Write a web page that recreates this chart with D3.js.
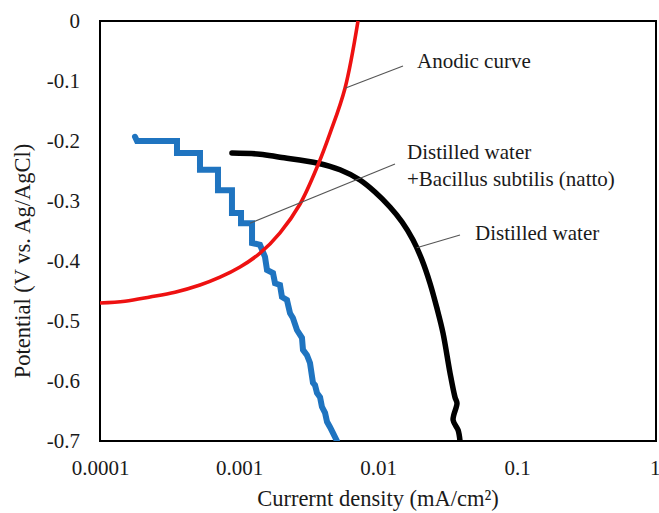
<!DOCTYPE html>
<html>
<head>
<meta charset="utf-8">
<script src="https://cdn.jsdelivr.net/npm/d3@7/dist/d3.min.js"></script>
<style>
  html, body { margin: 0; padding: 0; background: #fff; }
  svg { display: block; }
</style>
</head>
<body>
<svg id="chart" width="659" height="513"></svg>
<script>
// ---- data (current density in mA/cm², potential in V vs Ag/AgCl) ----
const xTicks = [0.0001, 0.001, 0.01, 0.1, 1];
const xTickLabels = ["0.0001", "0.001", "0.01", "0.1", "1"];
const yTicks = [0, -0.1, -0.2, -0.3, -0.4, -0.5, -0.6, -0.7];
const yTickLabels = ["0", "-0.1", "-0.2", "-0.3", "-0.4", "-0.5", "-0.6", "-0.7"];

const anodicCurrent = [1.0e-4, 1.514e-4, 2.29e-4, 3.465e-4, 5.24e-4, 7.30e-4, 1.017e-3, 1.416e-3, 1.972e-3, 2.75e-3, 3.70e-3, 4.52e-3, 5.79e-3, 7.18e-3];
const anodicPotential = [-0.470, -0.467, -0.460, -0.452, -0.440, -0.427, -0.410, -0.387, -0.353, -0.305, -0.240, -0.187, -0.112, 0.0];

const dwCurrent = [8.90e-4, 1.416e-3, 1.972e-3, 3.70e-3, 5.33e-3, 7.42e-3, 9.51e-3, 1.219e-2, 1.49e-2, 1.787e-2, 2.07e-2, 2.366e-2, 2.65e-2, 2.935e-2, 3.30e-2, 3.58e-2, 3.70e-2, 3.47e-2, 3.77e-2, 3.89e-2];
const dwPotential = [-0.220, -0.222, -0.227, -0.237, -0.248, -0.265, -0.285, -0.310, -0.335, -0.365, -0.398, -0.437, -0.478, -0.520, -0.587, -0.627, -0.637, -0.665, -0.682, -0.700];

const bsCurrent = [1.786e-4, 1.846e-4, 3.58e-4, 3.58e-4, 5.24e-4, 5.24e-4, 7.06e-4, 7.06e-4, 8.90e-4, 8.90e-4, 1.034e-3, 1.034e-3, 1.241e-3, 1.241e-3, 1.416e-3, 1.538e-3, 1.590e-3, 1.756e-3, 1.816e-3, 1.972e-3, 2.037e-3, 2.213e-3, 2.328e-3, 2.443e-3, 2.612e-3, 2.838e-3, 2.886e-3, 3.083e-3, 3.242e-3, 3.404e-3, 3.524e-3, 3.64e-3, 3.83e-3, 3.95e-3, 4.16e-3, 4.30e-3, 4.52e-3, 5.07e-3];
const bsPotential = [-0.193, -0.200, -0.200, -0.220, -0.220, -0.248, -0.248, -0.282, -0.282, -0.320, -0.320, -0.337, -0.337, -0.370, -0.373, -0.393, -0.415, -0.420, -0.437, -0.440, -0.460, -0.465, -0.487, -0.495, -0.515, -0.528, -0.548, -0.557, -0.570, -0.603, -0.607, -0.620, -0.627, -0.643, -0.653, -0.668, -0.677, -0.700];

const xTitle = "Currernt density (mA/cm²)";
const yTitle = "Potential (V vs. Ag/AgCl)";

// ---- layout ----
const FONT = '"Liberation Serif", "Times New Roman", Times, serif';
const svg = d3.select("#chart");
const plot = { left: 100, right: 656, top: 21, bottom: 441 };

const x = d3.scaleLog().domain([0.0001, 1]).range([plot.left, plot.right]);
const y = d3.scaleLinear().domain([-0.7, 0]).range([plot.bottom, plot.top]);

// axes (labels only; no tick marks)
const xAxis = d3.axisBottom(x).tickValues(xTicks).tickSize(0).tickPadding(0)
  .tickFormat((d, i) => xTickLabels[i]);
const gx = svg.append("g").attr("transform", `translate(0,${plot.bottom})`).call(xAxis)
  .attr("font-family", FONT);
gx.select(".domain").remove();
gx.selectAll("text").attr("font-size", 21).attr("dy", null).attr("y", 34)
  .attr("font-family", FONT).attr("fill", "#1a1a1a");
gx.selectAll(".tick").filter(d => d === 1).select("text")
  .attr("text-anchor", "end").attr("x", 660 - x(1));

const yAxis = d3.axisLeft(y).tickValues(yTicks).tickSize(0).tickPadding(0)
  .tickFormat((d, i) => yTickLabels[i]);
const gy = svg.append("g").attr("transform", `translate(80,0)`).call(yAxis)
  .attr("font-family", FONT);
gy.select(".domain").remove();
gy.selectAll("text").attr("font-size", 21).attr("x", 0).attr("dy", "0.33em")
  .attr("font-family", FONT).attr("fill", "#1a1a1a");

// frame
svg.append("rect")
  .attr("x", plot.left).attr("y", plot.top)
  .attr("width", plot.right - plot.left).attr("height", plot.bottom - plot.top)
  .attr("fill", "none").attr("stroke", "#000").attr("stroke-width", 2);

// curves
svg.append("clipPath").attr("id", "clip").append("rect")
  .attr("x", plot.left).attr("y", plot.top - 1)
  .attr("width", plot.right - plot.left).attr("height", plot.bottom - plot.top + 1);
const curves = svg.append("g").attr("clip-path", "url(#clip)");

const line = d3.line().x(d => x(d[0])).y(d => y(d[1]));
const smooth = d3.line().x(d => x(d[0])).y(d => y(d[1])).curve(d3.curveCatmullRom);

curves.append("path")
  .datum(bsCurrent.map((c, i) => [c, bsPotential[i]]))
  .attr("d", line).attr("fill", "none").attr("stroke", "#1f74c0")
  .attr("stroke-width", 6).attr("stroke-linejoin", "miter").attr("stroke-linecap", "round");

curves.append("path")
  .datum(dwCurrent.map((c, i) => [c, dwPotential[i]]))
  .attr("d", smooth).attr("fill", "none").attr("stroke", "#000")
  .attr("stroke-width", 5.5).attr("stroke-linecap", "round");

curves.append("path")
  .datum(anodicCurrent.map((c, i) => [c, anodicPotential[i]]))
  .attr("d", smooth).attr("fill", "none").attr("stroke", "#ee1111")
  .attr("stroke-width", 3.6);

// annotation leaders (anchored to data points)
const leaders = [
  { from: [5.79e-3, -0.112], to: [403, 66] },
  { from: [1.20e-3, -0.337], to: [395, 164] },
  { from: [1.90e-2, -0.378], to: [460, 235] }
];
leaders.forEach(l => {
  svg.append("line")
    .attr("x1", x(l.from[0])).attr("y1", y(l.from[1]))
    .attr("x2", l.to[0]).attr("y2", l.to[1])
    .attr("stroke", "#555").attr("stroke-width", 1.1);
});

const labels = [
  { text: "Anodic curve", x: 417, y: 68 },
  { text: "Distilled water", x: 407, y: 159 },
  { text: "+Bacillus subtilis (natto)", x: 407, y: 186 },
  { text: "Distilled water", x: 475, y: 240 }
];
labels.forEach(l => {
  svg.append("text").attr("x", l.x).attr("y", l.y).attr("font-size", 21)
    .attr("font-family", FONT).attr("fill", "#1a1a1a").text(l.text);
});

// axis titles
svg.append("text").attr("x", (plot.left + plot.right) / 2).attr("y", 506)
  .attr("text-anchor", "middle").attr("font-size", 22.5)
  .attr("font-family", FONT).attr("fill", "#1a1a1a").text(xTitle);
svg.append("text").attr("transform", "translate(30,261) rotate(-90)")
  .attr("text-anchor", "middle").attr("font-size", 22.5)
  .attr("font-family", FONT).attr("fill", "#1a1a1a").text(yTitle);
</script>
</body>
</html>
